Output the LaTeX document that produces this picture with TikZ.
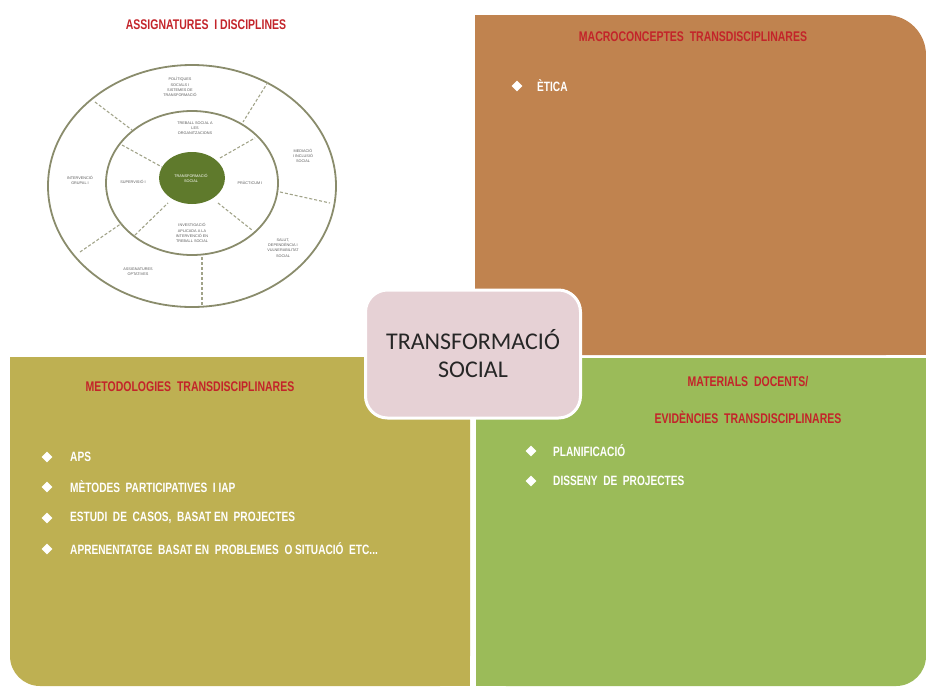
\documentclass[tikz,border=0pt]{standalone}
\usepackage{fontspec}
\setmainfont{Liberation Sans}
\newfontfamily\titlefont[FakeStretch=0.75]{Liberation Sans}
\newfontfamily\boxfont{Carlito}
\definecolor{brownpanel}{HTML}{C0834F}
\definecolor{olivepanel}{HTML}{BEB052}
\definecolor{greenpanel}{HTML}{9BBB59}
\definecolor{boxpink}{HTML}{E6D1D5}
\definecolor{titlered}{HTML}{C3242A}
\definecolor{ringcol}{HTML}{8A8C6C}
\definecolor{hubgreen}{HTML}{5F7A2C}
\definecolor{tinytext}{HTML}{5A5A5A}
\tikzset{
  paneltitle/.style={font=\titlefont\bfseries\fontsize{14}{16}\selectfont, text=titlered, align=center},
  bulletitem/.style={font=\titlefont\bfseries\fontsize{13.5}{15}\selectfont, text=white, anchor=west},
  bulletmark/.style={diamond, fill=white, minimum width=11pt, minimum height=11pt, inner sep=0pt},
  ringlabel/.style={font=\fontsize{3.8}{5.2}\selectfont, text=tinytext, align=center},
  ringline/.style={draw=ringcol, line width=1.8pt},
  divider/.style={draw=ringcol!80, line width=1.1pt, dashed, dash pattern=on 3pt off 2pt},
}
\usetikzlibrary{shapes.geometric}
\begin{document}
\begin{tikzpicture}[x=1pt, y=-1pt, every node/.style={inner sep=0pt}]
    \useasboundingbox (0,0) rectangle (926,686);
    % macroconceptes (top right)
    \fill [brownpanel, rounded corners=40pt] (475,15) rectangle (926,355);
    \fill [brownpanel] (475,15) rectangle (700,355);
    \fill [brownpanel] (475,200) rectangle (926,355);
    % metodologies (bottom left)
    \fill [olivepanel, rounded corners=30pt] (10,357) rectangle (470,686);
    \fill [olivepanel] (200,357) rectangle (470,686);
    \fill [olivepanel] (10,357) rectangle (470,520);
    % materials (bottom right)
    \fill [greenpanel, rounded corners=30pt] (476,358) rectangle (926,686);
    \fill [greenpanel] (476,358) rectangle (700,686);
    \fill [greenpanel] (476,358) rectangle (926,520);

    % rings of subjects
    \draw [ringline] (192,186) ellipse [x radius=144, y radius=121];
    \draw [ringline] (192,183) ellipse [x radius=86, y radius=72];
    \fill [hubgreen] (192,178) ellipse [x radius=33, y radius=26];
    \draw [divider] (95,102) -- (132,130);
    \draw [divider] (268,82) -- (243,122);
    \draw [divider] (280,192) -- (330,203);
    \draw [divider] (80,252) -- (122,223);
    \draw [divider] (202,257) -- (202,306);
    \draw [divider] (122,145) -- (162,167);
    \draw [divider] (220,158) -- (255,138);
    \draw [divider] (135,235) -- (168,203);
    \draw [divider] (218,203) -- (252,230);
    \node [ringlabel, text=white] (hub) at (191,178) {TRANSFORMACIÓ\\SOCIAL};
    \node [ringlabel] (politiques) at (180,87) {POLÍTIQUES\\SOCIALS I\\SISTEMES DE\\TRANSFORMACIÓ};
    \node [ringlabel] (organitzacions) at (195,128) {TREBALL SOCIAL A\\LES\\ORGANITZACIONS};
    \node [ringlabel] (investigacio) at (192,233) {INVESTIGACIÓ\\APLICADA A LA\\INTERVENCIÓ EN\\TREBALL SOCIAL};
    \node [ringlabel] (supervisio) at (133,182) {SUPERVISIÓ I};
    \node [ringlabel] (practicum) at (250,183) {PRÀCTICUM I};
    \node [ringlabel] (grupal) at (80,180) {INTERVENCIÓ\\GRUPAL I};
    \node [ringlabel] (mediacio) at (303,156) {MEDIACIÓ\\I INCLUSIÓ\\SOCIAL};
    \node [ringlabel] (salut) at (283,248) {SALUT,\\DEPENDÈNCIA I\\VULNERABILITAT\\SOCIAL};
    \node [ringlabel] (optatives) at (138,272) {ASSIGNATURES\\OPTATIVES};

    % titles
    \node [paneltitle] (assignatures) at (206,25) {ASSIGNATURES\ \ I DISCIPLINES};
    \node [paneltitle] (macro) at (693,37) {MACROCONCEPTES\ \ TRANSDISCIPLINARES};
    \node [paneltitle] (metode) at (190,387) {METODOLOGIES\ \ TRANSDISCIPLINARES};
    \node [paneltitle] (materials) at (748,382) {MATERIALS\ \ DOCENTS/};
    \node [paneltitle] (evidencies) at (748,417) {EVIDÈNCIES\ \ TRANSDISCIPLINARES};

    % bullets
    \node [bulletmark] (mk1) at (517,86) {};
    \node [bulletitem] (etica) at (537,86) {ÈTICA};
    \node [bulletmark] (mk2) at (47,457) {};
    \node [bulletitem] (aps) at (70,457) {APS};
    \node [bulletmark] (mk3) at (47,487) {};
    \node [bulletitem] (iap) at (70,487) {MÈTODES\ \ PARTICIPATIVES\ \ I IAP};
    \node [bulletmark] (mk4) at (47,518) {};
    \node [bulletitem] (casos) at (70,518) {ESTUDI\ \ DE\ \ CASOS,\ \ BASAT EN\ \ PROJECTES};
    \node [bulletmark] (mk5) at (47,549) {};
    \node [bulletitem] (problemes) at (70,549) {APRENENTATGE\ \ BASAT EN\ \ PROBLEMES\ \ O SITUACIÓ\ \ ETC...};
    \node [bulletmark] (mk6) at (531,451) {};
    \node [bulletitem] (planif) at (553,451) {PLANIFICACIÓ};
    \node [bulletmark] (mk7) at (531,481) {};
    \node [bulletitem] (disseny) at (553,481) {DISSENY\ \ DE\ \ PROJECTES};

    % central box
    \node [draw=white, line width=3pt, fill=boxpink, rounded corners=22pt,
           minimum width=215pt, minimum height=128pt, align=center,
           font=\boxfont\fontsize{24}{28}\selectfont, text=black!85] (centre) at (473,354)
           {TRANSFORMACIÓ\\SOCIAL};
\end{tikzpicture}
\end{document}
